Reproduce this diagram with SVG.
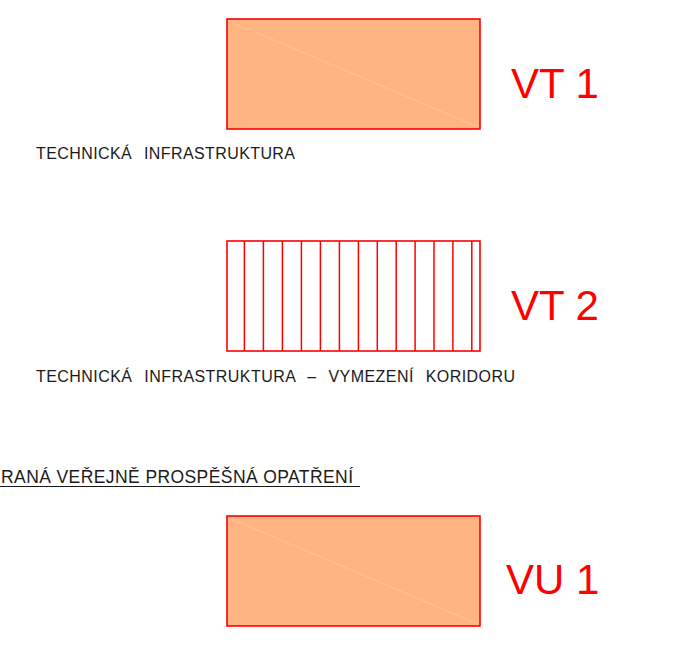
<svg xmlns="http://www.w3.org/2000/svg" width="679" height="649" viewBox="0 0 679 649">
<style>
.box{fill:#FFB482;stroke:#FF0000;stroke-width:1.6}
.diag{stroke:#FFC39C;stroke-width:1}
.hatch{fill:#FFFFFF;stroke:#FF0000;stroke-width:1.6}
.hl{stroke:#FF0000;stroke-width:1.5}
.lbl{font-family:"Liberation Sans",Arial,sans-serif;font-size:42px;fill:#FF0000}
.cap{font-family:"Liberation Sans",Arial,sans-serif;font-size:16px;fill:#1A1A1A;word-spacing:7px}
.hd{font-family:"Liberation Sans",Arial,sans-serif;font-size:17.5px;fill:#1A1A1A}
</style>
<rect width="679" height="649" fill="#FFFFFF"/>
<g id="vt1">
<rect class="box" x="227" y="19" width="253" height="110"/>
<line class="diag" x1="229" y1="21" x2="478" y2="127"/>
<text class="lbl" x="511" y="98">VT 1</text>
<text class="cap" x="36" y="159" textLength="259" lengthAdjust="spacing">TECHNICKÁ INFRASTRUKTURA</text>
</g>
<g id="vt2">
<rect class="hatch" x="227" y="241" width="253" height="110"/>
<g>
<line class="hl" x1="244.4" y1="241" x2="244.4" y2="351"/>
<line class="hl" x1="263.4" y1="241" x2="263.4" y2="351"/>
<line class="hl" x1="282.4" y1="241" x2="282.4" y2="351"/>
<line class="hl" x1="301.4" y1="241" x2="301.4" y2="351"/>
<line class="hl" x1="320.4" y1="241" x2="320.4" y2="351"/>
<line class="hl" x1="339.4" y1="241" x2="339.4" y2="351"/>
<line class="hl" x1="358.4" y1="241" x2="358.4" y2="351"/>
<line class="hl" x1="377.3" y1="241" x2="377.3" y2="351"/>
<line class="hl" x1="396.2" y1="241" x2="396.2" y2="351"/>
<line class="hl" x1="415.1" y1="241" x2="415.1" y2="351"/>
<line class="hl" x1="434" y1="241" x2="434" y2="351"/>
<line class="hl" x1="452.9" y1="241" x2="452.9" y2="351"/>
<line class="hl" x1="471.8" y1="241" x2="471.8" y2="351"/>
</g>
<text class="lbl" x="511" y="320">VT 2</text>
<text class="cap" x="36" y="381.5" textLength="479" lengthAdjust="spacing">TECHNICKÁ INFRASTRUKTURA – VYMEZENÍ KORIDORU</text>
</g>
<g id="heading">
<text class="hd" x="1" y="482.5" textLength="352" lengthAdjust="spacing">RANÁ VEŘEJNĚ PROSPĚŠNÁ OPATŘENÍ</text>
<line x1="0" y1="486.5" x2="360" y2="486.5" stroke="#1A1A1A" stroke-width="1.2"/>
</g>
<g id="vu1">
<rect class="box" x="227" y="516" width="253" height="110"/>
<line class="diag" x1="229" y1="518" x2="478" y2="624"/>
<text class="lbl" x="506" y="594">VU 1</text>
</g>
<g id="connectors"/>
</svg>
